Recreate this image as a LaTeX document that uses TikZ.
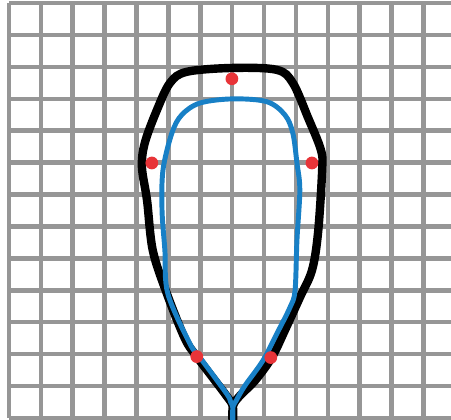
\documentclass[tikz,border=0pt]{standalone}
\usepackage{tikz}
\usepackage{xcolor}
\definecolor{GridGray}{RGB}{150,150,150}
\definecolor{OuterBlack}{RGB}{0,0,0}
\definecolor{InnerBlue}{RGB}{24,128,198}
\definecolor{MarkRed}{RGB}{232,52,56}
\usetikzlibrary{positioning, calc}

\begin{document}
\begin{tikzpicture}
    \tikzset{
        gridline/.style={draw=GridGray, line width=4.1pt},
        outerline/.style={draw=OuterBlack, line width=7.5pt, line join=round, line cap=round},
        innerline/.style={draw=InnerBlue, line width=4.4pt, line join=round, line cap=round},
        landmark/.style={circle, fill=MarkRed, inner sep=0pt, minimum size=0.4cm}
    }
    \useasboundingbox (-0.28,-0.05) rectangle (13.86,13.10);
    \fill[white] (-0.28,-0.05) rectangle (13.86,13.10);
    % grid
    \draw[gridline] (0,0) grid (13.86,13);
    % outer contour
    \draw[outerline] plot[smooth, tension=0.55] coordinates {
        (7.02,-0.3) (7.02,0.35) (7.24,0.69) (7.71,1.16) (8.24,1.89)
        (8.65,2.74) (9.12,3.77) (9.50,4.62) (9.69,5.79) (9.82,7.77)
        (9.78,8.40) (9.37,9.43) (8.90,10.50) (8.40,10.91) (7.02,10.97)
        (5.58,10.85) (5.05,10.50) (4.64,9.65) (4.26,8.62) (4.17,7.86)
        (4.33,6.82) (4.51,5.25) (4.95,3.90) (5.52,2.48) (5.89,1.92)
        (6.39,1.26) (6.82,0.69) (7.02,0.35) (7.02,-0.3)};
    % inner contour
    \draw[innerline] plot[smooth, tension=0.55] coordinates {
        (7.02,-0.3) (7.02,0.3) (7.12,0.53) (7.40,1.01) (7.96,1.79)
        (8.40,2.64) (8.81,3.46) (8.97,3.99) (9.03,5.57) (9.12,7.14)
        (9.03,7.99) (8.90,8.93) (8.65,9.50) (8.09,9.91) (7.02,10.0)
        (5.99,9.87) (5.42,9.50) (5.11,8.93) (4.83,7.77) (4.80,6.51)
        (4.89,5.25) (4.98,3.90) (5.67,2.33) (5.99,1.89) (6.46,1.26)
        (6.87,0.69) (6.95,0.5) (7.02,0.3) (7.02,-0.3)};
    % landmarks
    \node[landmark] (top) at (6.99,10.63) {};
    \node[landmark] (left) at (4.48,7.99) {};
    \node[landmark] (right) at (9.50,7.99) {};
    \node[landmark] (lowleft) at (5.89,1.92) {};
    \node[landmark] (lowright) at (8.21,1.89) {};
\end{tikzpicture}
\end{document}
